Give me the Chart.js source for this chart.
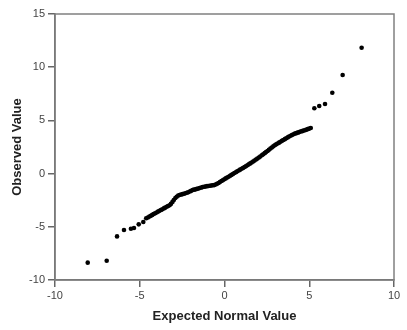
<!DOCTYPE html>
<html>
<head>
<meta charset="utf-8">
<script src="https://cdn.jsdelivr.net/npm/chart.js@4/dist/chart.umd.min.js"></script>
<style>
html,body{margin:0;padding:0;background:#fff;}
#c{display:block;}
</style>
</head>
<body>
<canvas id="c" width="407" height="330"></canvas>
<script>
const expectedValues = [
  -8.07,-6.95,-6.34,-5.93,-5.52,-5.34,-5.06,-4.79,
  -4.62,-4.52,-4.43,-4.35,-4.26,-4.18,-4.09,-4.01,-3.92,-3.84,-3.75,-3.67,-3.58,-3.50,-3.41,-3.33,-3.24,
  -3.16,-3.07,-2.99,-2.90,-2.82,-2.73,
  -2.65,-2.56,-2.48,-2.39,-2.31,-2.22,-2.14,-2.05,-1.97,-1.88,-1.80,-1.71,-1.63,-1.54,-1.46,-1.37,-1.29,-1.20,-1.12,-1.03,-0.95,-0.86,-0.78,-0.69,-0.61,
  -0.52,-0.44,-0.35,-0.27,-0.18,-0.10,-0.01,0.07,0.16,0.24,
  0.33,0.41,0.50,0.58,0.67,0.75,0.84,0.92,1.01,1.09,1.18,1.26,1.35,1.43,1.52,1.60,1.69,1.77,1.86,1.94,2.03,2.11,2.20,
  2.28,2.37,2.45,2.54,2.62,2.71,2.79,2.88,2.96,3.05,3.13,3.22,3.30,3.39,3.47,3.56,3.64,3.73,3.81,3.90,3.98,
  4.07,4.15,4.24,4.32,4.41,4.49,4.58,4.66,4.75,4.83,4.92,5.00,5.09,
  5.30,5.59,5.93,6.36,6.97,8.09
];
const observedValues = [
  -8.37,-8.19,-5.90,-5.30,-5.18,-5.11,-4.77,-4.55,
  -4.20,-4.12,-4.03,-3.97,-3.88,-3.80,-3.72,-3.66,-3.57,-3.50,-3.42,-3.36,-3.27,-3.20,-3.12,-3.05,-2.97,
  -2.85,-2.66,-2.48,-2.30,-2.18,-2.06,
  -2.01,-1.97,-1.93,-1.89,-1.85,-1.80,-1.75,-1.68,-1.62,-1.55,-1.51,-1.48,-1.44,-1.40,-1.36,-1.31,-1.27,-1.24,-1.21,-1.18,-1.16,-1.14,-1.12,-1.10,-1.08,
  -1.03,-0.96,-0.88,-0.79,-0.70,-0.62,-0.53,-0.45,-0.37,-0.29,
  -0.20,-0.12,-0.04,0.05,0.13,0.21,0.29,0.37,0.46,0.53,0.61,0.69,0.78,0.87,0.96,1.05,1.14,1.22,1.32,1.41,1.51,1.61,1.72,
  1.81,1.92,2.02,2.13,2.23,2.35,2.45,2.56,2.66,2.75,2.83,2.91,2.99,3.08,3.16,3.24,3.32,3.40,3.48,3.56,3.63,
  3.70,3.76,3.80,3.85,3.90,3.95,3.99,4.04,4.08,4.13,4.18,4.23,4.28,
  6.14,6.35,6.54,7.60,9.27,11.83
];
const xTicks = [-10,-5,0,5,10];
const yTicks = [-10,-5,0,5,10,15];
const xTitle = "Expected Normal Value";
const yTitle = "Observed Value";

const points = expectedValues.map((x,i)=>({x:x, y:observedValues[i]}));

const boxPlugin = {
  id:'box',
  afterDraw(chart){
    const a = chart.chartArea, ctx = chart.ctx;
    ctx.save();
    ctx.strokeStyle = '#808080';
    ctx.lineWidth = 1.5;
    ctx.strokeRect(a.left, a.top, a.right-a.left, a.bottom-a.top);
    ctx.restore();
  }
};

new Chart(document.getElementById('c'), {
  type:'scatter',
  data:{datasets:[{data:points, backgroundColor:'#000', borderColor:'#000', pointRadius:2.3, pointBorderWidth:0, pointHoverRadius:2.3}]},
  options:{
    responsive:false, animation:false,
    layout:{padding:{top:14,right:13,left:0,bottom:0}},
    plugins:{legend:{display:false}, tooltip:{enabled:false}},
    scales:{
      x:{type:'linear', min:-10, max:10,
        afterBuildTicks(s){ s.ticks = xTicks.map(v=>({value:v})); },
        afterFit(s){ s.height = 50; },
        grid:{drawOnChartArea:false, drawTicks:true, tickLength:7, color:'#666', lineWidth:1.5},
        border:{display:true, color:'#666', width:1.5},
        ticks:{color:'#444', font:{family:'Arial, Liberation Sans', size:11}, padding:2, maxRotation:0},
        title:{display:true, text:xTitle, color:'#222', font:{family:'Arial, Liberation Sans', size:13, weight:'bold'}, padding:{top:2,bottom:6}}
      },
      y:{type:'linear', min:-10, max:15,
        afterBuildTicks(s){ s.ticks = yTicks.map(v=>({value:v})); },
        afterFit(s){ s.width = 55; },
        grid:{drawOnChartArea:false, drawTicks:true, tickLength:7, color:'#666', lineWidth:1.5},
        border:{display:true, color:'#666', width:1.5},
        ticks:{color:'#444', font:{family:'Arial, Liberation Sans', size:11}, padding:3},
        title:{display:true, text:yTitle, color:'#222', font:{family:'Arial, Liberation Sans', size:13, weight:'bold'}, padding:{top:10,bottom:2}}
      }
    }
  },
  plugins:[boxPlugin]
});
</script>
</body>
</html>
